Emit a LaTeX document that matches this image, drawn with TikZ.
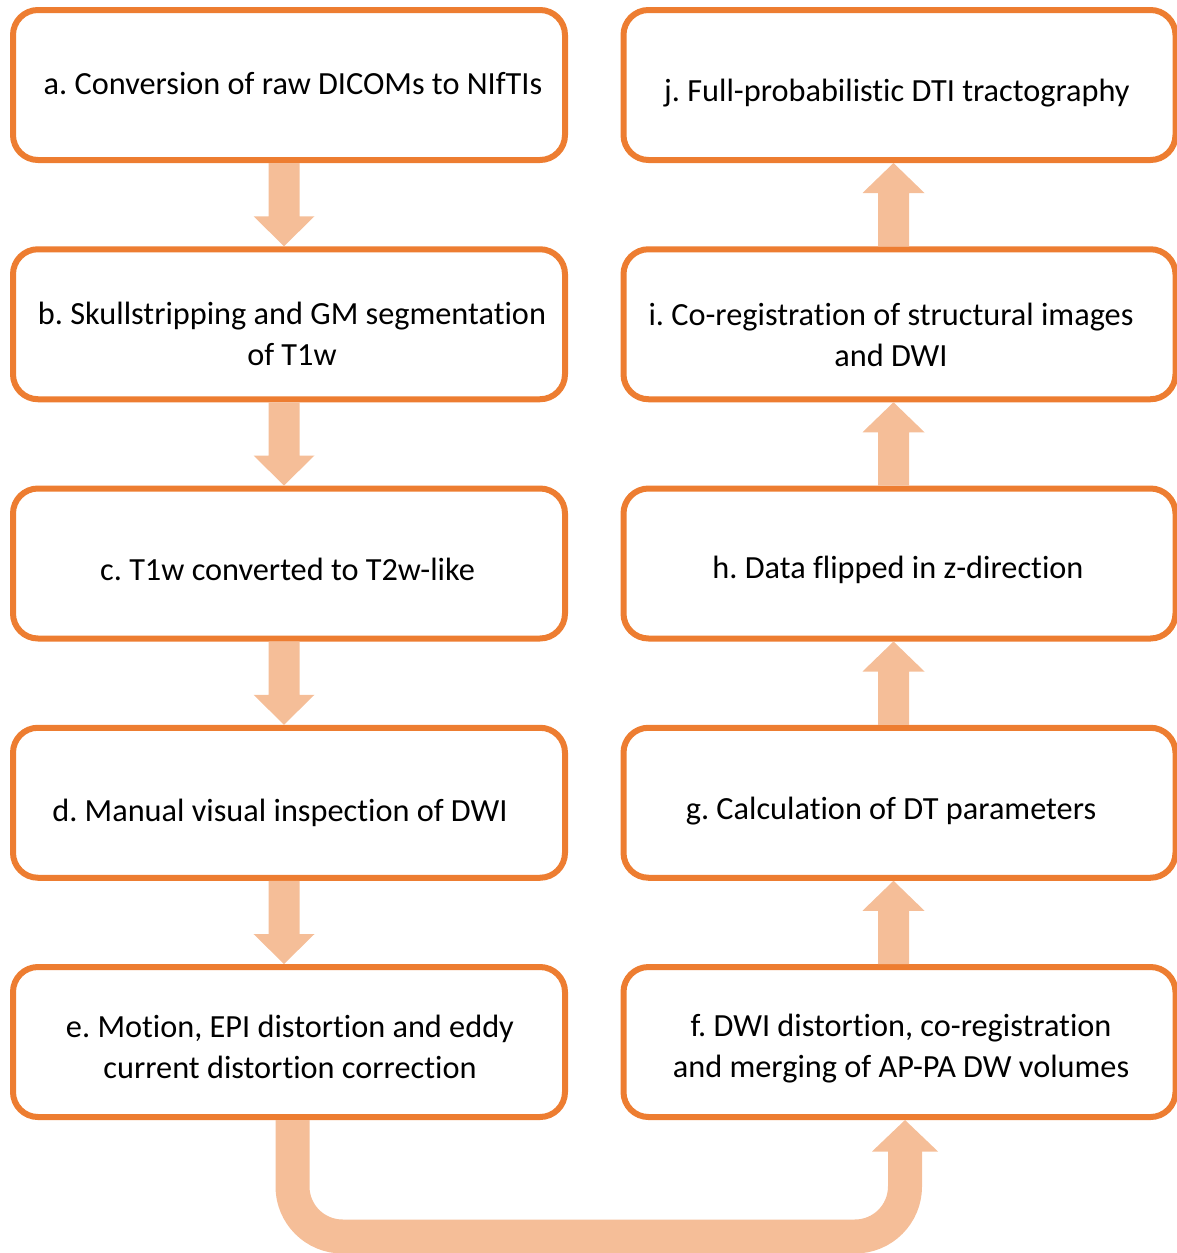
\documentclass[tikz,border=0pt]{standalone}
\usepackage{fontspec}
\setmainfont{Carlito}[Ligatures=NoCommon]
\usetikzlibrary{calc}
\frenchspacing
\definecolor{boxorange}{HTML}{ED7D31}
\definecolor{arrowpeach}{HTML}{F5BE98}
\newcommand\downblock[2]{%
  \path let \p1=(#1.south), \p2=(#2.north) in
    [arrowfill] (\x1-20.5pt,\y1) -- (\x1+10.5pt,\y1) -- (\x1+10.5pt,\y2+30pt)
    -- (\x1+25.5pt,\y2+30pt) -- (\x1-5pt,\y2) -- (\x1-35.5pt,\y2+30pt)
    -- (\x1-20.5pt,\y2+30pt) -- cycle;}
\newcommand\upblock[2]{%
  \path let \p1=(#1.north), \p2=(#2.south) in
    [arrowfill] (\x1-21.5pt,\y1) -- (\x1+9.5pt,\y1) -- (\x1+9.5pt,\y2-30pt)
    -- (\x1+25pt,\y2-30pt) -- (\x1-6pt,\y2) -- (\x1-37pt,\y2-30pt)
    -- (\x1-21.5pt,\y2-30pt) -- cycle;}
\begin{document}
\begin{tikzpicture}[x=1pt,y=-1pt,
  box/.style={draw=boxorange, line width=6pt, rounded corners=25pt,
    minimum width=552pt, minimum height=150pt, fill=white, inner sep=0pt},
  lbl/.style={font=\fontsize{32.3}{41}\selectfont, align=center, inner sep=0pt},
  arrowfill/.style={fill=arrowpeach},
  ushaft/.style={draw=arrowpeach, line width=34pt, rounded corners=50pt}]
\useasboundingbox (0,0) rectangle (1177,1253);
% left column
\node[box] (a) at (289,85) {};
\node[box] (b) at (289,324.25) {};
\node[box] (c) at (289,563.5) {};
\node[box] (d) at (289,802.75) {};
\node[box] (e) at (289,1042) {};
% right column
\node[box] (j) at (899.5,85) {};
\node[box] (i) at (899.5,324.25) {};
\node[box] (h) at (899.5,563.5) {};
\node[box] (g) at (899.5,802.75) {};
\node[box] (f) at (899.5,1042) {};
% labels
\node[lbl] (ta) at (293,84) {a. Conversion of raw DICOMs to NIfTIs};
\node[lbl] (tb) at (292,334) {b. Skullstripping and GM segmentation\\of T1w};
\node[lbl] (tc) at (287.5,569) {c. T1w converted to T2w-like};
\node[lbl] (td) at (280,813) {d. Manual visual inspection of DWI};
\node[lbl] (te) at (290,1047) {e. Motion, EPI distortion and eddy\\current distortion correction};
\node[lbl] (tf) at (901,1049) {f. DWI distortion, co-registration\\and merging of AP-PA DW volumes};
\node[lbl] (tg) at (891,811) {g. Calculation of DT parameters};
\node[lbl] (th) at (898,570) {h. Data flipped in z-direction};
\node[lbl] (ti) at (891,335) {i. Co-registration of structural images\\and DWI};
\node[lbl] (tj) at (897,93) {j. Full-probabilistic DTI tractography};
% block arrows
\downblock{a}{b}
\downblock{b}{c}
\downblock{c}{d}
\downblock{d}{e}
\upblock{f}{g}
\upblock{g}{h}
\upblock{h}{i}
\upblock{i}{j}
% U-turn arrow from e to f
\path let \p1=(e.south), \p2=(f.south) in
  [ushaft] (\x1+3.5pt,\y1) -- (\x1+3.5pt,-1236.5pt) -- (\x2+5.5pt,-1236.5pt)
  -- (\x2+5.5pt,\y2-31pt);
\path let \p2=(f.south) in
  [arrowfill] (\x2-27.5pt,\y2-31.5pt) -- (\x2+38.5pt,\y2-31.5pt) -- (\x2+5.5pt,\y2) -- cycle;
\end{tikzpicture}
\end{document}
